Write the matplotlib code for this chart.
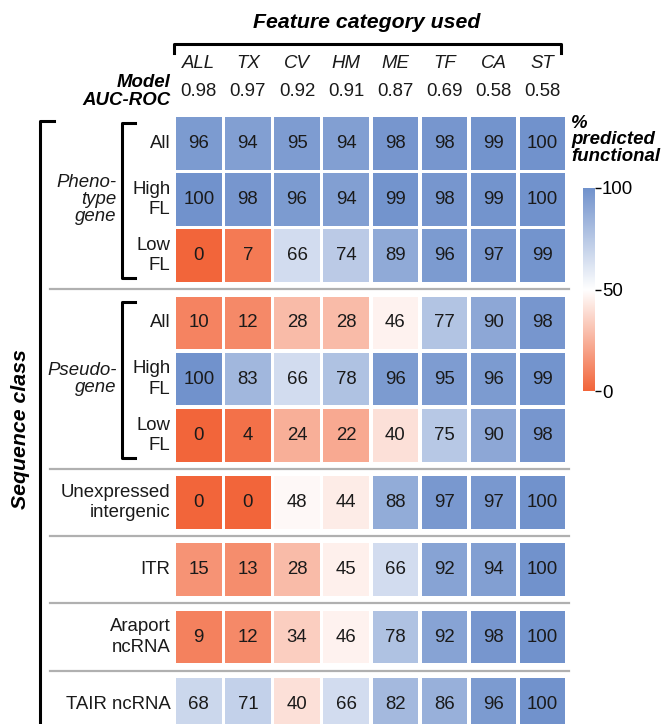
import numpy as np
import matplotlib.pyplot as plt
from matplotlib.colors import LinearSegmentedColormap
from matplotlib.patches import Rectangle

plt.rcParams['font.family'] = ['Liberation Sans', 'DejaVu Sans']

features = ["ALL", "TX", "CV", "HM", "ME", "TF", "CA", "ST"]
auc = ["0.98", "0.97", "0.92", "0.91", "0.87", "0.69", "0.58", "0.58"]

row_labels = ["All", "High\nFL", "Low\nFL",
              "All", "High\nFL", "Low\nFL",
              "Unexpressed\nintergenic", "ITR", "Araport\nncRNA", "TAIR ncRNA"]
# group id of each row (rows in one group sit closer together)
row_group = [0, 0, 0, 1, 1, 1, 2, 3, 4, 5]

pheno_all = [96, 94, 95, 94, 98, 98, 99, 100]
pheno_high = [100, 98, 96, 94, 99, 98, 99, 100]
pheno_low = [0, 7, 66, 74, 89, 96, 97, 99]
pseudo_all = [10, 12, 28, 28, 46, 77, 90, 98]
pseudo_high = [100, 83, 66, 78, 96, 95, 96, 99]
pseudo_low = [0, 4, 24, 22, 40, 75, 90, 98]
unexpressed = [0, 0, 48, 44, 88, 97, 97, 100]
itr = [15, 13, 28, 45, 66, 92, 94, 100]
araport = [9, 12, 34, 46, 78, 92, 98, 100]
tair = [68, 71, 40, 66, 82, 86, 96, 100]

values = np.array([pheno_all, pheno_high, pheno_low, pseudo_all, pseudo_high,
                   pseudo_low, unexpressed, itr, araport, tair])

cmap = LinearSegmentedColormap.from_list("rw_b", ["#f2653a", "#ffffff", "#7192cc"])

# row positions: 1 unit inside a group, 1.2 units between groups
ypos = [0.0]
for i in range(1, len(row_group)):
    step = 1.0 if row_group[i] == row_group[i - 1] else 1.2
    ypos.append(ypos[-1] + step)
ypos = np.array(ypos)

fs = 13.4

fig = plt.figure(figsize=(6.64, 7.24), dpi=100)
ax = fig.add_axes([0.2624, 0.0, 0.5919, 0.8405])
ax.set_xlim(-0.5, 7.5)
ax.set_ylim(10.35, -0.5)
ax.axis("off")

cw, ch = 0.925, 0.94
for r in range(values.shape[0]):
    for c in range(values.shape[1]):
        v = values[r, c]
        ax.add_patch(Rectangle((c - cw / 2, ypos[r] - ch / 2), cw, ch,
                               facecolor=cmap(v / 100), edgecolor="none"))
        ax.text(c, ypos[r], str(v), ha="center", va="center", fontsize=fs, color="#1a1a1a")
    ax.text(-0.58, ypos[r], row_labels[r], ha="right", va="center", fontsize=fs,
            linespacing=1.25, color="#1a1a1a")

# separators between groups
for i in range(1, len(row_group)):
    if row_group[i] != row_group[i - 1]:
        ymid = (ypos[i] + ypos[i - 1]) / 2
        ax.plot([-3.03, 7.53], [ymid, ymid], color="#b0b0b0", lw=1.6, clip_on=False)

# column headers and AUC values
for c in range(len(features)):
    ax.text(c, -1.42, features[c], ha="center", va="center", fontsize=fs,
            style="italic", color="#1a1a1a")
    ax.text(c, -0.92, auc[c], ha="center", va="center", fontsize=fs, color="#1a1a1a")
ax.text(-0.58, -1.08, "Model", ha="right", va="center", fontsize=fs,
        style="italic", weight="bold")
ax.text(-0.58, -0.77, "AUC-ROC", ha="right", va="center", fontsize=fs,
        style="italic", weight="bold")

# top bracket
ax.plot([-0.5, -0.5, 7.38, 7.38], [-1.62, -1.78, -1.78, -1.62], color="black",
        lw=2.2, clip_on=False)
ax.text(3.42, -2.16, "Feature category used", ha="center", va="center",
        fontsize=15.3, style="italic", weight="bold")

# inner brackets
bx, bt = -1.57, -1.3
for g, lab in [(0, "Pheno-\ntype\ngene"), (1, "Pseudo-\ngene")]:
    rows = ypos[np.array(row_group) == g]
    y0, y1 = rows[0] - 0.37, rows[-1] + 0.4
    ax.plot([bt, bx, bx, bt], [y0, y0, y1, y1], color="black", lw=2.2, clip_on=False)
    ax.text(bx - 0.1, rows.mean(), lab, ha="right", va="center", fontsize=fs,
            style="italic", linespacing=1.0, color="#1a1a1a")

# outer bracket
ax.plot([-2.95, -3.23, -3.23], [-0.4, -0.4, 10.5], color="black", lw=2.2, clip_on=False)
ax.text(-3.63, 5.1, "Sequence class", ha="center", va="center", fontsize=15.3,
        style="italic", weight="bold", rotation=90)

# colorbar
cax = fig.add_axes([583 / 664, 1 - 391 / 724, 12 / 664, 203 / 724])
grad = np.linspace(0, 100, 256).reshape(-1, 1)
cax.imshow(grad, aspect="auto", cmap=cmap, origin="lower", extent=[0, 1, 0, 100])
cax.set_xticks([])
cax.yaxis.tick_right()
cax.set_yticks([0, 50, 100])
cax.tick_params(axis="y", length=4, width=1, labelsize=fs, pad=1)
for s in cax.spines.values():
    s.set_visible(False)
fig.text(571 / 664, 1 - 115 / 724, "%\npredicted\nfunctional", ha="left", va="top",
         fontsize=fs, style="italic", weight="bold", linespacing=0.95)

fig.savefig("out.png", dpi=100)
